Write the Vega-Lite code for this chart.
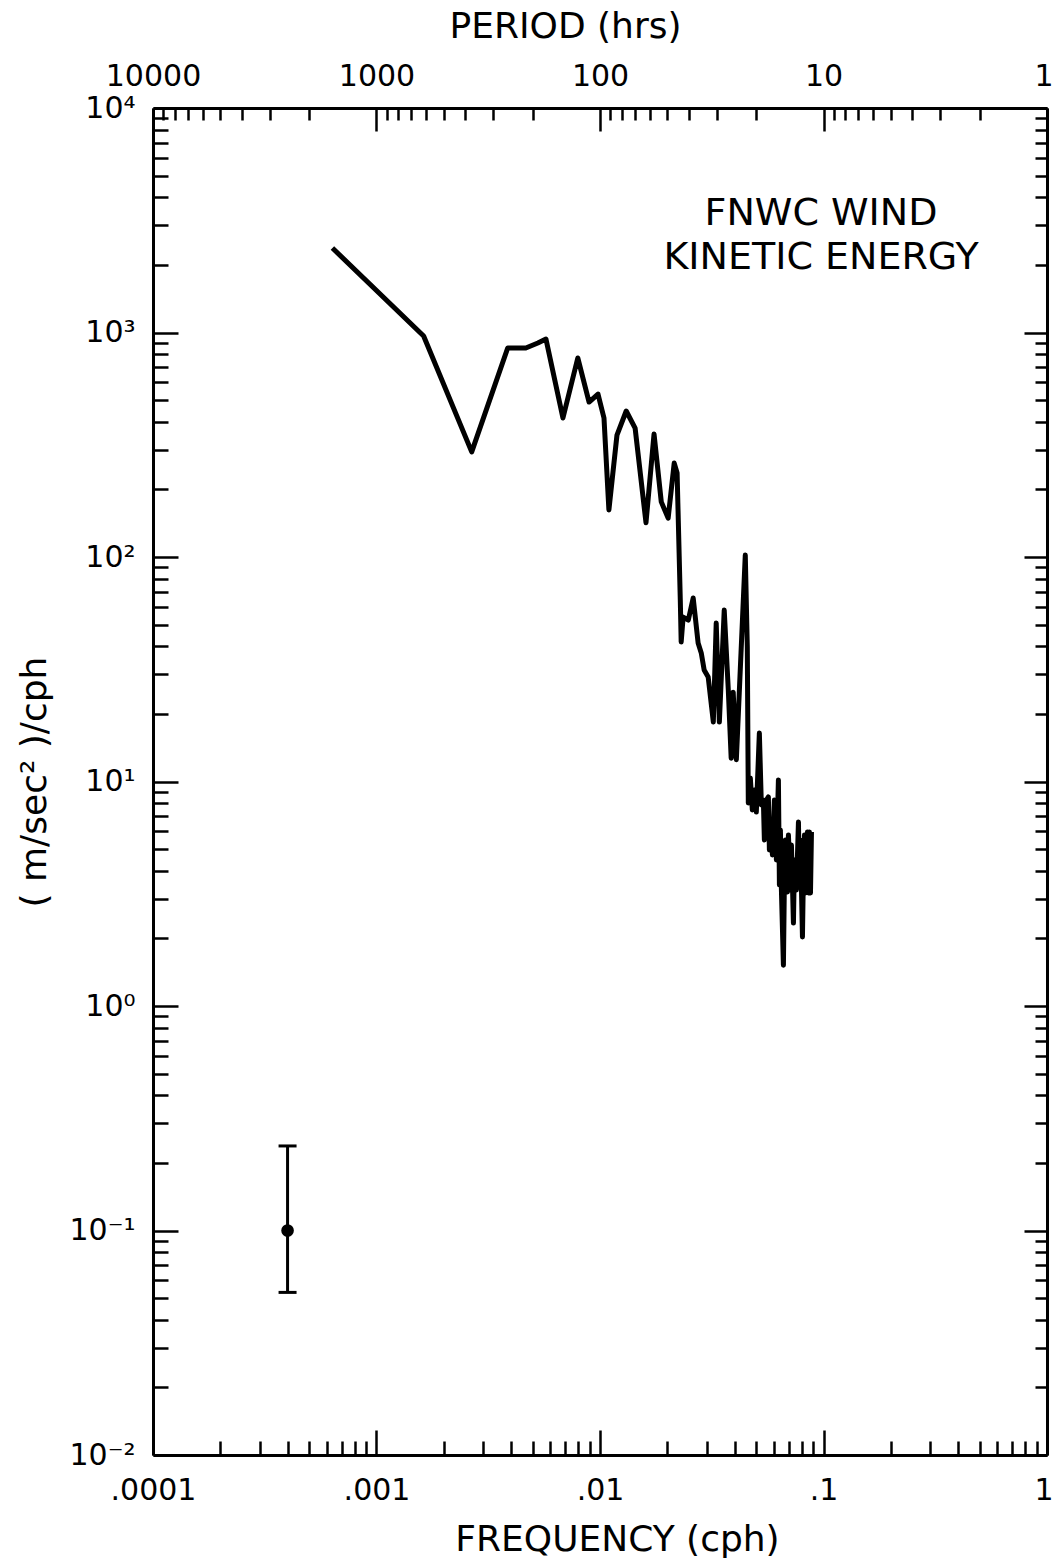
{
  "$schema": "https://vega.github.io/schema/vega-lite/v6.json",
  "width": 894,
  "height": 1347,
  "autosize": {"type": "none"},
  "padding": {"left": 153, "top": 108, "right": 7, "bottom": 103},
  "background": "white",
  "config": {
    "view": {"stroke": null},
    "font": "DejaVu Sans",
    "axis": {
      "grid": false,
      "domainColor": "black",
      "domainWidth": 3,
      "tickColor": "black",
      "tickWidth": 2.5,
      "labelColor": "black",
      "titleColor": "black",
      "labelFontSize": 30,
      "titleFontSize": 36,
      "titleFontWeight": "normal",
      "labelFont": "DejaVu Sans",
      "titleFont": "DejaVu Sans",
      "labelOverlap": false,
      "labelBound": false,
      "labelFlush": false
    }
  },
  "datasets": {
    "spectrum": [
      {"freq": 0.000635, "value": 2378},
      {"freq": 0.001625, "value": 965},
      {"freq": 0.002667, "value": 294},
      {"freq": 0.003863, "value": 853},
      {"freq": 0.004656, "value": 853},
      {"freq": 0.005272, "value": 898},
      {"freq": 0.00573, "value": 935},
      {"freq": 0.006826, "value": 416},
      {"freq": 0.007955, "value": 770},
      {"freq": 0.008934, "value": 490},
      {"freq": 0.009796, "value": 532},
      {"freq": 0.01042, "value": 416},
      {"freq": 0.01096, "value": 162},
      {"freq": 0.01191, "value": 349},
      {"freq": 0.0131, "value": 447},
      {"freq": 0.01436, "value": 375},
      {"freq": 0.01606, "value": 142},
      {"freq": 0.01745, "value": 353},
      {"freq": 0.0188, "value": 176},
      {"freq": 0.02018, "value": 149},
      {"freq": 0.02148, "value": 262},
      {"freq": 0.02213, "value": 237},
      {"freq": 0.02287, "value": 64.4},
      {"freq": 0.02308, "value": 41.8},
      {"freq": 0.02355, "value": 54},
      {"freq": 0.02484, "value": 52.4},
      {"freq": 0.02612, "value": 65.7},
      {"freq": 0.02748, "value": 41.4},
      {"freq": 0.02838, "value": 37.4},
      {"freq": 0.02924, "value": 31.4},
      {"freq": 0.03048, "value": 29.2},
      {"freq": 0.03214, "value": 18.4},
      {"freq": 0.03311, "value": 50.8},
      {"freq": 0.0342, "value": 18.4},
      {"freq": 0.03596, "value": 58},
      {"freq": 0.0375, "value": 25.6},
      {"freq": 0.03863, "value": 12.7},
      {"freq": 0.03944, "value": 25},
      {"freq": 0.04074, "value": 12.5},
      {"freq": 0.04467, "value": 102},
      {"freq": 0.045609, "value": 39.72},
      {"freq": 0.046083, "value": 8.02},
      {"freq": 0.047045, "value": 10.37},
      {"freq": 0.048025, "value": 7.47},
      {"freq": 0.049028, "value": 9.17},
      {"freq": 0.050052, "value": 7.31},
      {"freq": 0.051642, "value": 16.45},
      {"freq": 0.05272, "value": 7.86},
      {"freq": 0.05382, "value": 8.27},
      {"freq": 0.05438, "value": 5.49},
      {"freq": 0.055516, "value": 8.27},
      {"freq": 0.056673, "value": 8.53},
      {"freq": 0.057262, "value": 4.95},
      {"freq": 0.058457, "value": 6.74},
      {"freq": 0.059063, "value": 4.71},
      {"freq": 0.060295, "value": 8.27},
      {"freq": 0.061553, "value": 4.47},
      {"freq": 0.062838, "value": 10.15},
      {"freq": 0.063489, "value": 3.46},
      {"freq": 0.064147, "value": 6.08},
      {"freq": 0.064814, "value": 3.29},
      {"freq": 0.066166, "value": 1.52},
      {"freq": 0.066852, "value": 3.64},
      {"freq": 0.067547, "value": 5.49},
      {"freq": 0.068956, "value": 3.22},
      {"freq": 0.069672, "value": 5.78},
      {"freq": 0.071126, "value": 3.29},
      {"freq": 0.071864, "value": 5.21},
      {"freq": 0.073364, "value": 2.34},
      {"freq": 0.074125, "value": 4.47},
      {"freq": 0.075672, "value": 3.29},
      {"freq": 0.077251, "value": 6.6},
      {"freq": 0.078053, "value": 3.46},
      {"freq": 0.078863, "value": 5.49},
      {"freq": 0.080509, "value": 2.03},
      {"freq": 0.081344, "value": 4.04},
      {"freq": 0.082188, "value": 5.78},
      {"freq": 0.083041, "value": 3.19},
      {"freq": 0.084775, "value": 5.96},
      {"freq": 0.085655, "value": 3.19},
      {"freq": 0.086543, "value": 5.96},
      {"freq": 0.087441, "value": 3.19},
      {"freq": 0.088349, "value": 5.96}
    ],
    "errorbar": [{"freq": 0.0004, "value": 0.1, "low": 0.053, "high": 0.238}],
    "notes": [
      {"freq": 0.0975, "value": 3373, "text": "FNWC  WIND"},
      {"freq": 0.0975, "value": 2148, "text": "KINETIC  ENERGY"}
    ]
  },
  "resolve": {"axis": {"x": "independent", "y": "independent"}},
  "layer": [
    {
      "data": {"name": "spectrum"},
      "mark": {"type": "line", "color": "black", "strokeWidth": 5, "strokeJoin": "round"},
      "encoding": {
        "x": {
          "field": "freq", "type": "quantitative",
          "scale": {"type": "log", "domain": [0.0001, 1], "nice": false},
          "axis": {
            "orient": "bottom",
            "title": "FREQUENCY (cph)",
            "titleX": 464,
            "values": [0.0001,0.0002,0.0003,0.0004,0.0005,0.0006,0.0007,0.0008,0.0009,0.001,0.002,0.003,0.004,0.005,0.006,0.007,0.008,0.009,0.01,0.02,0.03,0.04,0.05,0.06,0.07,0.08,0.09,0.1,0.2,0.3,0.4,0.5,0.6,0.7,0.8,0.9,1],
            "labelExpr": "abs(log(datum.value)/LN10 - round(log(datum.value)/LN10)) < 0.001 ? (round(log(datum.value)/LN10) == -4 ? '.0001' : round(log(datum.value)/LN10) == -3 ? '.001' : round(log(datum.value)/LN10) == -2 ? '.01' : round(log(datum.value)/LN10) == -1 ? '.1' : '1') : ''",
            "labelAlign": {"condition": {"test": "datum.value >= 0.99", "value": "right"}, "value": "center"},
            "labelOffset": {"condition": {"test": "datum.value >= 0.99", "value": 6}, "value": 0},
            "tickSize": {"condition": {"test": "abs(log(datum.value)/LN10 - round(log(datum.value)/LN10)) < 0.001", "value": -25}, "value": -14},
            "labelPadding": 45,
            "titlePadding": 6
          }
        },
        "y": {
          "field": "value", "type": "quantitative",
          "scale": {"type": "log", "domain": [0.01, 10000], "nice": false},
          "axis": {
            "orient": "left",
            "title": "( m/sec² )/cph",
            "values": [0.01,0.02,0.03,0.04,0.05,0.06,0.07,0.08,0.09,0.1,0.2,0.3,0.4,0.5,0.6,0.7,0.8,0.9,1,2,3,4,5,6,7,8,9,10,20,30,40,50,60,70,80,90,100,200,300,400,500,600,700,800,900,1000,2000,3000,4000,5000,6000,7000,8000,9000,10000],
            "labelExpr": "abs(log(datum.value)/LN10 - round(log(datum.value)/LN10)) < 0.001 ? (round(log(datum.value)/LN10) == 4 ? '10⁴' : round(log(datum.value)/LN10) == 3 ? '10³' : round(log(datum.value)/LN10) == 2 ? '10²' : round(log(datum.value)/LN10) == 1 ? '10¹' : round(log(datum.value)/LN10) == 0 ? '10⁰' : round(log(datum.value)/LN10) == -1 ? '10⁻¹' : '10⁻²') : ''",
            "tickSize": {"condition": {"test": "abs(log(datum.value)/LN10 - round(log(datum.value)/LN10)) < 0.001", "value": -25}, "value": -15},
            "labelPadding": 43,
            "titlePadding": 15
          }
        }
      }
    },
    {
      "data": {"name": "errorbar"},
      "mark": {"type": "rule", "color": "black", "strokeWidth": 3},
      "encoding": {
        "x": {
          "field": "freq", "type": "quantitative",
          "scale": {"type": "log", "domain": [0.0001, 1], "nice": false},
          "axis": {
            "orient": "top",
            "title": "PERIOD (hrs)",
            "titleX": 412,
            "values": [0.0001,0.000111111,0.000125,0.000142857,0.000166667,0.0002,0.00025,0.000333333,0.0005,0.001,0.00111111,0.00125,0.00142857,0.00166667,0.002,0.0025,0.00333333,0.005,0.01,0.0111111,0.0125,0.0142857,0.0166667,0.02,0.025,0.0333333,0.05,0.1,0.111111,0.125,0.142857,0.166667,0.2,0.25,0.333333,0.5,1],
            "labelExpr": "abs(log(datum.value)/LN10 - round(log(datum.value)/LN10)) < 0.001 ? (round(log(datum.value)/LN10) == -4 ? '10000' : round(log(datum.value)/LN10) == -3 ? '1000' : round(log(datum.value)/LN10) == -2 ? '100' : round(log(datum.value)/LN10) == -1 ? '10' : '1') : ''",
            "labelAlign": {"condition": {"test": "datum.value >= 0.99", "value": "right"}, "value": "center"},
            "labelOffset": {"condition": {"test": "datum.value >= 0.99", "value": 6}, "value": 0},
            "tickSize": {"condition": {"test": "abs(log(datum.value)/LN10 - round(log(datum.value)/LN10)) < 0.001", "value": -23}, "value": -12},
            "labelPadding": 40,
            "titlePadding": 5
          }
        },
        "y": {
          "field": "low", "type": "quantitative",
          "scale": {"type": "log", "domain": [0.01, 10000], "nice": false},
          "axis": {
            "orient": "right",
            "title": null,
            "labels": false,
            "values": [0.01,0.02,0.03,0.04,0.05,0.06,0.07,0.08,0.09,0.1,0.2,0.3,0.4,0.5,0.6,0.7,0.8,0.9,1,2,3,4,5,6,7,8,9,10,20,30,40,50,60,70,80,90,100,200,300,400,500,600,700,800,900,1000,2000,3000,4000,5000,6000,7000,8000,9000,10000],
            "tickSize": {"condition": {"test": "abs(log(datum.value)/LN10 - round(log(datum.value)/LN10)) < 0.001", "value": -23}, "value": -12}
          }
        },
        "y2": {"field": "high"}
      }
    },
    {
      "data": {"name": "errorbar"},
      "mark": {"type": "tick", "color": "black", "opacity": 1, "orient": "horizontal", "size": 18, "thickness": 3},
      "encoding": {
        "x": {"field": "freq", "type": "quantitative", "scale": {"type": "log", "domain": [0.0001, 1], "nice": false}, "axis": null},
        "y": {"field": "low", "type": "quantitative", "scale": {"type": "log", "domain": [0.01, 10000], "nice": false}, "axis": null}
      }
    },
    {
      "data": {"name": "errorbar"},
      "mark": {"type": "tick", "color": "black", "opacity": 1, "orient": "horizontal", "size": 18, "thickness": 3},
      "encoding": {
        "x": {"field": "freq", "type": "quantitative", "scale": {"type": "log", "domain": [0.0001, 1], "nice": false}, "axis": null},
        "y": {"field": "high", "type": "quantitative", "scale": {"type": "log", "domain": [0.01, 10000], "nice": false}, "axis": null}
      }
    },
    {
      "data": {"name": "errorbar"},
      "mark": {"type": "point", "filled": true, "color": "black", "opacity": 1, "size": 160},
      "encoding": {
        "x": {"field": "freq", "type": "quantitative", "scale": {"type": "log", "domain": [0.0001, 1], "nice": false}, "axis": null},
        "y": {"field": "value", "type": "quantitative", "scale": {"type": "log", "domain": [0.01, 10000], "nice": false}, "axis": null}
      }
    },
    {
      "data": {"name": "notes"},
      "mark": {"type": "text", "color": "black", "fontSize": 38, "font": "DejaVu Sans", "align": "center", "baseline": "middle"},
      "encoding": {
        "x": {"field": "freq", "type": "quantitative", "scale": {"type": "log", "domain": [0.0001, 1], "nice": false}, "axis": null},
        "y": {"field": "value", "type": "quantitative", "scale": {"type": "log", "domain": [0.01, 10000], "nice": false}, "axis": null},
        "text": {"field": "text"}
      }
    }
  ]
}
